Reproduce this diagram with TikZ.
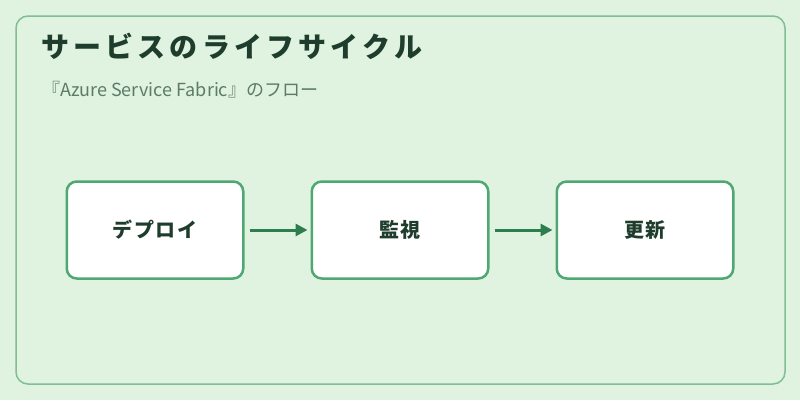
\documentclass[tikz,border=0pt]{standalone}
\usepackage{fontspec}
\usepackage{xcolor}
\usepackage{tikz}
\usetikzlibrary{arrows.meta,positioning}
\setmainfont{Noto Sans CJK JP}
\newfontfamily\titlefont[LetterSpace=15]{Noto Sans CJK JP}
\newfontfamily\stagefont[LetterSpace=7]{Noto Sans CJK JP}
\definecolor{canvas}{HTML}{E0F2E0}
\definecolor{frame}{HTML}{7FBF93}
\definecolor{edge}{HTML}{4FA872}
\definecolor{ink}{HTML}{1E3D2C}
\definecolor{muted}{HTML}{5C7C68}
\definecolor{flow}{HTML}{2E7D4F}
\tikzset{
  stage/.style={rectangle, rounded corners=10pt, draw=edge, line width=2.5pt, fill=white,
                minimum width=176.5pt, minimum height=97pt, align=center,
                font=\stagefont\fontsize{20}{24}\selectfont\bfseries, text=ink},
  fl/.style={-{Triangle[length=12pt,width=12pt]}, draw=flow, line width=3pt,
             shorten <=5pt, shorten >=3pt}
}
\begin{document}
\begin{tikzpicture}[x=1pt, y=-1pt]
  \useasboundingbox[fill=canvas] (0,0) rectangle (800,400);
  \draw[frame, line width=1.5pt, rounded corners=12pt] (16,16) rectangle (785,384);
  \node[anchor=west, inner sep=0pt, text=ink, font=\titlefont\fontsize{28}{32}\selectfont\bfseries] (title) at (41,46) {サービスのライフサイクル};
  \node[anchor=west, inner sep=0pt, text=muted, font=\fontsize{18}{22}\selectfont] (sub) at (42,90) {『Azure Service Fabric』のフロー};
  \node[stage] (deploy) at (155,230) {デプロイ};
  \node[stage, right=66pt of deploy] (watch) {監視};
  \node[stage, right=66pt of watch] (update) {更新};
  \foreach \a/\b in {deploy/watch,watch/update} \draw[fl] (\a)--(\b);
\end{tikzpicture}
\end{document}
